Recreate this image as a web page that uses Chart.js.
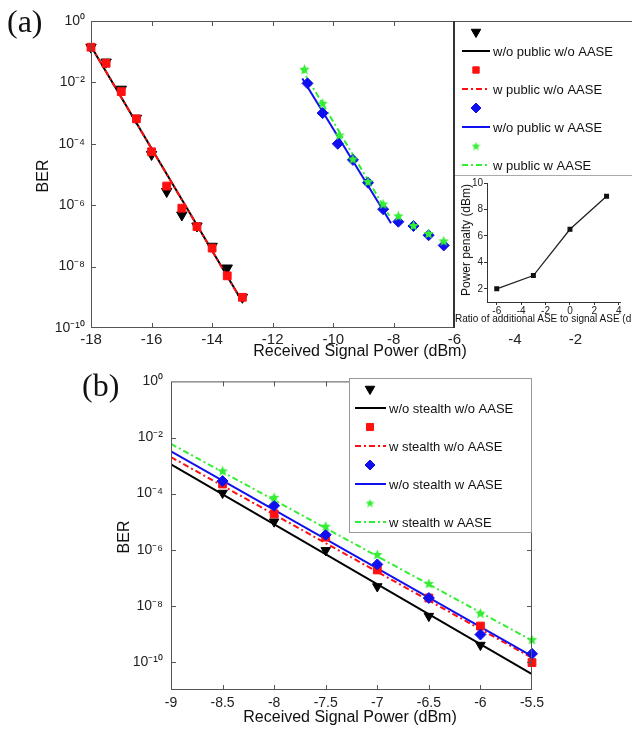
<!DOCTYPE html>
<html>
<head>
<meta charset="utf-8">
<script src="https://cdn.jsdelivr.net/npm/chart.js@4.4.0/dist/chart.umd.min.js"></script>
<style>
  html, body { margin: 0; padding: 0; background: #fff; }
  body { width: 632px; height: 730px; position: relative; overflow: hidden;
         font-family: "Liberation Sans", Arial, sans-serif; color: #111; }
  canvas, .lbl { position: absolute; }
  .lbl { white-space: nowrap; line-height: 1; }
  .panel { font-family: "Liberation Serif", "Times New Roman", serif; font-size: 32px; }
  .axt { font-size: 16px; }
  .ctr { transform: translate(-50%, -50%); }
  .rot { transform: translate(-50%, -50%) rotate(-90deg); }
</style>
</head>
<body>
<canvas id="chartA" width="650" height="365" style="left:0;top:0"></canvas>
<canvas id="inset" width="176" height="151" style="left:456px;top:176px"></canvas>
<canvas id="chartB" width="632" height="365" style="left:0;top:365px"></canvas>

<div class="lbl panel" style="left:7px;top:5px">(a)</div>
<div class="lbl axt rot" style="left:43px;top:176px">BER</div>
<div class="lbl axt ctr" style="left:360px;top:351px">Received Signal Power (dBm)</div>
<div class="lbl rot" style="left:466px;top:240px;font-size:12px">Power penalty (dBm)</div>
<div class="lbl" style="left:455px;top:314px;font-size:10px">Ratio of additional ASE to signal ASE (dB)</div>

<div class="lbl panel" style="left:82px;top:369px">(b)</div>
<div class="lbl axt rot" style="left:124px;top:537px">BER</div>
<div class="lbl axt ctr" style="left:350px;top:717px">Received Signal Power (dBm)</div>

<script>
// ---- panel (a): public channel, BER vs received power ----
const aPowerLow = [-18, -17.5, -17, -16.5, -16, -15.5, -15, -14.5, -14, -13.5, -13];
const aBerNoPubNoAase = [0.14, 0.046, 6e-3, 6.8e-4, 4.5e-5, 2.8e-6, 4.8e-7, 2.1e-7, 4.6e-8, 9e-9, 1e-9];
const aBerPubNoAase = [0.14, 0.042, 5e-3, 6.5e-4, 5.5e-5, 4.2e-6, 8e-7, 2e-7, 4e-8, 5e-9, 1e-9];
const aPowerNoPubAase = [-10.85, -10.35, -9.85, -9.35, -8.85, -8.35, -7.85, -7.35, -6.85, -6.35];
const aBerNoPubAase = [9.3e-3, 1e-3, 1e-4, 3e-5, 5.4e-6, 7.4e-7, 2.9e-7, 2.1e-7, 1.05e-7, 4.9e-8];
const aPowerPubAase = [-10.95, -10.35, -9.8, -9.35, -8.85, -8.35, -7.85, -7.35, -6.85, -6.35];
const aBerPubAase = [2.7e-2, 2.1e-3, 1.95e-4, 3.2e-5, 5.9e-6, 1.1e-6, 4.5e-7, 2.2e-7, 1.2e-7, 6.9e-8];
// fitted lines (end points)
const aFitLowPower = [-18, -13];
const aFitNoPubNoAase = [0.15, 7.2e-10];
const aFitPubNoAase = [0.15, 7e-10];
const aFitNoPubAasePower = [-11.02, -8.09];
const aFitNoPubAase = [1.35e-2, 2.6e-7];
const aFitPubAasePower = [-11.05, -8.15];
const aFitPubAase = [2.9e-2, 4.5e-7];
const aBerTicks = [1, 1e-2, 1e-4, 1e-6, 1e-8, 1e-10];

// inset: power penalty vs additional ASE ratio
const insetRatio = [-6, -3, 0, 3];
const insetPenalty = [2, 3, 6.5, 9];
const insetXTicks = [-6, -4, -2, 0, 2, 4];
const insetYTicks = [2, 4, 6, 8, 10];

// ---- panel (b): stealth channel ----
const bPower = [-8.5, -8, -7.5, -7, -6.5, -6, -5.5];
const bBerNoStNoAase = [1.05e-4, 1.0e-5, 9.5e-7, 4.9e-8, 4.3e-9, 4e-10, null];
const bBerStNoAase = [2.2e-4, 1.9e-5, 2.8e-6, 1.9e-7, 1.9e-8, 1.9e-9, 9.5e-11];
const bBerNoStAase = [2.8e-4, 3.7e-5, 3.4e-6, 3.0e-7, 1.9e-8, 9.5e-10, 1.95e-10];
const bBerStAase = [6.5e-4, 7.4e-5, 6.9e-6, 6.8e-7, 6.3e-8, 5.5e-9, 6.3e-10];
const bFitPower = [-9, -5.5];
const bFitNoStNoAase = [1.1e-3, 3.7e-11];
const bFitStNoAase = [2.0e-3, 1.4e-10];
const bFitNoStAase = [3.2e-3, 1.6e-10];
const bFitStAase = [5.9e-3, 5.8e-10];
const bBerTicks = [1, 1e-2, 1e-4, 1e-6, 1e-8, 1e-10];

const labelsA = ['w/o public w/o AASE', 'w public w/o AASE', 'w/o public w AASE', 'w public w AASE'];
const labelsB = ['w/o stealth w/o AASE', 'w stealth w/o AASE', 'w/o stealth w AASE', 'w stealth w AASE'];

const BLACK = '#000000', RED = '#ff1010', BLUE = '#1010ee', GREEN = '#33ee33';
const DASHDOT = [6, 3, 2, 3];

Chart.defaults.font.family = '"Liberation Sans", Arial, sans-serif';
Chart.defaults.color = '#222';

const pts = (xs, ys) => xs.map((x, i) => ({ x: x, y: ys[i] }));
const SUP = { '-': '\u207B', '0': '\u2070', '1': '\u00B9', '2': '\u00B2', '3': '\u00B3', '4': '\u2074',
              '5': '\u2075', '6': '\u2076', '7': '\u2077', '8': '\u2078', '9': '\u2079' };
const pow10 = v => '10' + String(Math.round(Math.log10(v))).split('').map(c => SUP[c]).join('');

// filled five point star used as point style (matlab 'p' marker)
function starSprite(size, color) {
  const c = document.createElement('canvas');
  c.width = size; c.height = size;
  const g = c.getContext('2d');
  const cx = size / 2, cy = size / 2 + 0.5, R = size / 2, r = R * 0.45;
  g.beginPath();
  for (let i = 0; i < 10; i++) {
    const a = -Math.PI / 2 + i * Math.PI / 5;
    const rr = i % 2 ? r : R;
    g.lineTo(cx + rr * Math.cos(a), cy + rr * Math.sin(a));
  }
  g.closePath();
  g.fillStyle = color;
  g.fill();
  return c;
}
const starBig = starSprite(11, GREEN);
const starSmall = starSprite(9, GREEN);

function markers(xs, ys, color, style, r, order, rot) {
  return {
    data: pts(xs, ys), showLine: false, order: order, clip: false,
    pointStyle: style, pointRadius: r, pointRotation: rot || 0,
    pointBackgroundColor: color, pointBorderColor: color, pointBorderWidth: 1
  };
}
function fit(xs, ys, color, dash, order) {
  return {
    data: pts(xs, ys), showLine: true, order: order, borderColor: color,
    borderWidth: 2, borderDash: dash || [], pointRadius: 0
  };
}

// box around the plot with inward tick marks (matlab look)
const frame = {
  id: 'frame',
  afterDatasetsDraw(chart) {
    const { ctx, chartArea: a, scales } = chart;
    ctx.save();
    ctx.strokeStyle = '#555';
    ctx.lineWidth = 1;
    ctx.strokeRect(a.left + 0.5, a.top + 0.5, a.right - a.left - 1, a.bottom - a.top - 1);
    ctx.beginPath();
    scales.x.ticks.forEach(t => {
      const px = Math.round(scales.x.getPixelForValue(t.value)) + 0.5;
      if (px < a.left + 2 || px > a.right - 2) return;
      ctx.moveTo(px, a.bottom); ctx.lineTo(px, a.bottom - 5);
      ctx.moveTo(px, a.top); ctx.lineTo(px, a.top + 5);
    });
    scales.y.ticks.forEach(t => {
      const py = Math.round(scales.y.getPixelForValue(t.value)) + 0.5;
      if (py < a.top + 2 || py > a.bottom - 2) return;
      ctx.moveTo(a.left, py); ctx.lineTo(a.left + 5, py);
      ctx.moveTo(a.right, py); ctx.lineTo(a.right - 5, py);
    });
    ctx.stroke();
    ctx.restore();
  }
};

// legend with marker on one row and line + label on the next
const keyBox = {
  id: 'keyBox',
  afterDraw(chart, args, o) {
    const ctx = chart.ctx;
    ctx.save();
    ctx.fillStyle = '#fff';
    ctx.fillRect(o.bg[0], o.bg[1], o.bg[2], o.bg[3]);
    (o.rules || []).forEach(r => {
      ctx.strokeStyle = r.color; ctx.lineWidth = r.w;
      ctx.beginPath(); ctx.moveTo(r.x0, r.y0); ctx.lineTo(r.x1, r.y1); ctx.stroke();
    });
    if (o.border) {
      ctx.strokeStyle = o.border; ctx.lineWidth = 1;
      ctx.strokeRect(o.bg[0] + 0.5, o.bg[1] + 0.5, o.bg[2] - 1, o.bg[3] - 1);
    }
    ctx.font = '13px "Liberation Sans", Arial, sans-serif';
    ctx.textBaseline = 'middle';
    o.items.forEach((it, i) => {
      const y1 = o.y0 + i * 2 * o.step, y2 = y1 + o.step;
      ctx.fillStyle = it.color; ctx.strokeStyle = it.color;
      ctx.lineWidth = 1;
      Chart.helpers.drawPoint(ctx, { pointStyle: it.style, radius: it.r, rotation: it.rot || 0, borderWidth: 1 }, o.mx, y1);
      ctx.lineWidth = 2;
      ctx.setLineDash(it.dash || []);
      ctx.beginPath(); ctx.moveTo(o.lx0, y2); ctx.lineTo(o.lx1, y2); ctx.stroke();
      ctx.setLineDash([]);
      ctx.fillStyle = '#111';
      ctx.fillText(it.label, o.tx, y2 + 1);
    });
    ctx.restore();
  }
};

function berAxis(min, tickVals, width, pad) {
  return {
    type: 'logarithmic', min: min, max: 1,
    afterBuildTicks: s => { s.ticks = tickVals.map(v => ({ value: v })); },
    afterFit: s => { s.width = width; },
    grid: { display: false, drawTicks: false }, border: { display: false },
    ticks: { callback: v => pow10(v), font: { size: 14 }, padding: pad, autoSkip: false }
  };
}

// chart (a)
new Chart(document.getElementById('chartA'), {
  type: 'scatter',
  data: {
    datasets: [
      fit(aFitLowPower, aFitNoPubNoAase, BLACK, null, 8),
      fit(aFitLowPower, aFitPubNoAase, RED, DASHDOT, 7),
      fit(aFitNoPubAasePower, aFitNoPubAase, BLUE, null, 6),
      fit(aFitPubAasePower, aFitPubAase, GREEN, DASHDOT, 5),
      markers(aPowerLow, aBerNoPubNoAase, BLACK, 'triangle', 6, 4, 180),
      markers(aPowerLow, aBerPubNoAase, RED, 'rect', 5.5, 3),
      markers(aPowerNoPubAase, aBerNoPubAase, BLUE, 'rectRot', 5.5, 2),
      markers(aPowerPubAase, aBerPubAase, GREEN, starBig, 5, 1)
    ]
  },
  options: {
    responsive: false, animation: false, events: [],
    layout: { padding: { left: 0, top: 21, right: 14, bottom: 0 } },
    plugins: {
      legend: { display: false }, tooltip: { enabled: false },
      keyBox: {
        bg: [455, 22, 200, 306],
        rules: [
          { x0: 454, y0: 21, x1: 454, y1: 328, color: '#333', w: 2 },
          { x0: 455, y0: 175.5, x1: 650, y1: 175.5, color: '#aaa', w: 1 }
        ],
        mx: 476, lx0: 462, lx1: 490, tx: 493, y0: 32, step: 19,
        items: [
          { label: labelsA[0], color: BLACK, style: 'triangle', r: 5.5, rot: 180 },
          { label: labelsA[1], color: RED, style: 'rect', r: 4.5, dash: DASHDOT },
          { label: labelsA[2], color: BLUE, style: 'rectRot', r: 5 },
          { label: labelsA[3], color: GREEN, style: starSmall, r: 4, dash: DASHDOT }
        ]
      }
    },
    scales: {
      x: {
        type: 'linear', min: -18, max: 0,
        afterFit: s => { s.height = 37; },
        grid: { display: false, drawTicks: false }, border: { display: false },
        ticks: { stepSize: 2, callback: v => String(v), font: { size: 15 }, padding: 3, maxRotation: 0, autoSkip: false }
      },
      y: berAxis(1e-10, aBerTicks, 91, 6)
    }
  },
  plugins: [frame, keyBox]
});

// inset of (a)
new Chart(document.getElementById('inset'), {
  type: 'scatter',
  data: {
    datasets: [{
      data: pts(insetRatio, insetPenalty), showLine: true, borderColor: '#222', borderWidth: 1.3,
      pointStyle: 'rect', pointRadius: 2.6, pointBackgroundColor: '#111', pointBorderColor: '#111'
    }]
  },
  options: {
    responsive: false, animation: false, events: [],
    layout: { padding: { left: 0, top: 7, right: 12, bottom: 0 } },
    plugins: { legend: { display: false }, tooltip: { enabled: false } },
    scales: {
      x: {
        type: 'linear', min: -6.8, max: 4.1,
        afterBuildTicks: s => { s.ticks = insetXTicks.map(v => ({ value: v })); },
        afterFit: s => { s.height = 25; },
        grid: { drawOnChartArea: false, tickLength: 3, color: '#333' }, border: { color: '#333' },
        ticks: { font: { size: 10 }, padding: 0, maxRotation: 0, autoSkip: false, callback: v => String(v) }
      },
      y: {
        type: 'linear', min: 1, max: 10,
        afterBuildTicks: s => { s.ticks = insetYTicks.map(v => ({ value: v })); },
        afterFit: s => { s.width = 31; },
        grid: { drawOnChartArea: false, tickLength: 3, color: '#333' }, border: { color: '#333' },
        ticks: { font: { size: 10 }, padding: 1, autoSkip: false, callback: v => String(v) }
      }
    }
  }
});

// chart (b)
new Chart(document.getElementById('chartB'), {
  type: 'scatter',
  data: {
    datasets: [
      fit(bFitPower, bFitNoStNoAase, BLACK, null, 8),
      fit(bFitPower, bFitStNoAase, RED, DASHDOT, 7),
      fit(bFitPower, bFitNoStAase, BLUE, null, 6),
      fit(bFitPower, bFitStAase, GREEN, DASHDOT, 5),
      markers(bPower, bBerNoStNoAase, BLACK, 'triangle', 5.5, 4, 180),
      markers(bPower, bBerStNoAase, RED, 'rect', 5.5, 3),
      markers(bPower, bBerNoStAase, BLUE, 'rectRot', 5.5, 2),
      markers(bPower, bBerStAase, GREEN, starBig, 5, 1)
    ]
  },
  options: {
    responsive: false, animation: false, events: [],
    layout: { padding: { left: 0, top: 13, right: 100, bottom: 0 } },
    plugins: {
      legend: { display: false }, tooltip: { enabled: false },
      keyBox: {
        bg: [349, 13, 183, 155], border: '#999',
        mx: 370, lx0: 355, lx1: 386, tx: 389, y0: 24, step: 19,
        items: [
          { label: labelsB[0], color: BLACK, style: 'triangle', r: 5.5, rot: 180 },
          { label: labelsB[1], color: RED, style: 'rect', r: 5, dash: DASHDOT },
          { label: labelsB[2], color: BLUE, style: 'rectRot', r: 5 },
          { label: labelsB[3], color: GREEN, style: starSmall, r: 4, dash: DASHDOT }
        ]
      }
    },
    scales: {
      x: {
        type: 'linear', min: -9, max: -5.5,
        afterFit: s => { s.height = 40; },
        grid: { display: false, drawTicks: false }, border: { display: false },
        ticks: { stepSize: 0.5, callback: v => String(v), font: { size: 14 }, padding: 5, maxRotation: 0, autoSkip: false }
      },
      y: berAxis(1e-11, bBerTicks, 171, 8)
    }
  },
  plugins: [frame, keyBox]
});
</script>
</body>
</html>
